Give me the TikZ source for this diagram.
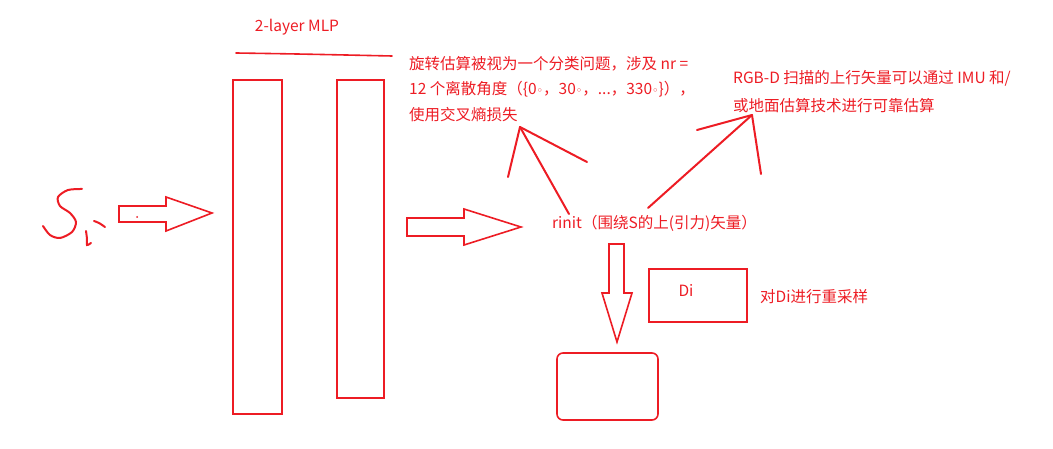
\documentclass[tikz,border=0pt]{standalone}
\usepackage{fontspec}
\newfontfamily\cjk{Noto Sans CJK SC}
\newfontfamily\sym{DejaVu Sans}
\usetikzlibrary{positioning}
\definecolor{pen}{RGB}{237,28,36}
\newcommand{\degmark}{{\sym\fontsize{11}{11}\selectfont ◦}}

\begin{document}
\begin{tikzpicture}[x=1pt,y=-1pt,
  ink/.style={draw=pen, line width=1.6pt, fill=white},
  hand/.style={pen, line width=2pt, line cap=round},
  label/.style={text=pen, font=\cjk\fontsize{15.5}{25.5}\selectfont, inner sep=0pt},
  layer/.style={draw=pen, line width=1.6pt, inner sep=0pt},
  box/.style={draw=pen, line width=1.6pt, inner sep=0pt}]
\useasboundingbox (0,0) rectangle (1053,449);

% handwritten input S_i
\draw[hand, smooth] plot coordinates {(82,189) (68,190) (58,197) (60,206) (70,213) (76,222) (72,232) (60,238) (50,235) (43,226)};
\draw[hand, smooth] plot coordinates {(86,231) (87,239) (87,245) (91,243)};
\draw[hand, smooth] plot coordinates {(94,221) (99,223) (105,227)};

% block arrow into the MLP
\draw[ink] (119,206) -- (166,206) -- (166,197) -- (212,213) -- (166,231) -- (166,222) -- (119,222) -- cycle;
\fill[pen] (137,217) circle (1pt);

% the two layers
\node[layer, minimum width=49pt, minimum height=334pt] (layer1) at (257.5,247) {};
\node[layer, minimum width=47pt, minimum height=318pt] (layer2) at (360.5,239) {};
\draw[hand, line width=1.6pt] (236,53) .. controls (300,54) .. (392,56);
\node[label] (mlp) at (297,27) {2-layer MLP};

% block arrow out of the MLP
\draw[ink] (407,218) -- (464,218) -- (464,209) -- (521,227) -- (464,245) -- (464,236) -- (407,236) -- cycle;

% output vector
\node[label, anchor=west] (rinit) at (552,223) {rinit（围绕S的上(引力)矢量）};

% notes
\node[label, anchor=north west, align=left] (rotnote) at (409,56)
  {旋转估算被视为一个分类问题，涉及 nr =\\12 个离散角度（\{0\degmark，30\degmark，...，330\degmark\}），\\使用交叉熵损失};
\node[label, anchor=north west, align=left, font=\cjk\fontsize{15.5}{28}\selectfont] (upnote) at (733,70)
  {RGB-D 扫描的上行矢量可以通过 IMU 和/\\或地面估算技术进行可靠估算};

% hand drawn pointers
\coordinate (lapex) at (520,127);
\coordinate (rapex) at (752,115);
\coordinate (lfoot) at (569,214);
\coordinate (rfoot) at (648,208);
\draw[hand] (lapex) -- (508,177);
\draw[hand] (lapex) -- (587,162);
\draw[hand] (lapex) -- (lfoot);
\draw[hand] (rapex) -- (697,130);
\draw[hand] (rapex) -- (761,174);
\draw[hand] (rapex) -- (rfoot);

% resampling
\draw[ink] (609,244) -- (624,244) -- (624,293) -- (632,293) -- (617,342) -- (602,293) -- (609,293) -- cycle;
\node[box, minimum width=98pt, minimum height=53pt] (dibox) at (698,295.5) {};
\node[label] (di) at (686,290) {Di};
\node[label, anchor=west] (resample) at (760,297) {对Di进行重采样};
\node[box, rounded corners=6pt, minimum width=101pt, minimum height=67pt] (result) at (607.5,386.5) {};
\end{tikzpicture}
\end{document}
